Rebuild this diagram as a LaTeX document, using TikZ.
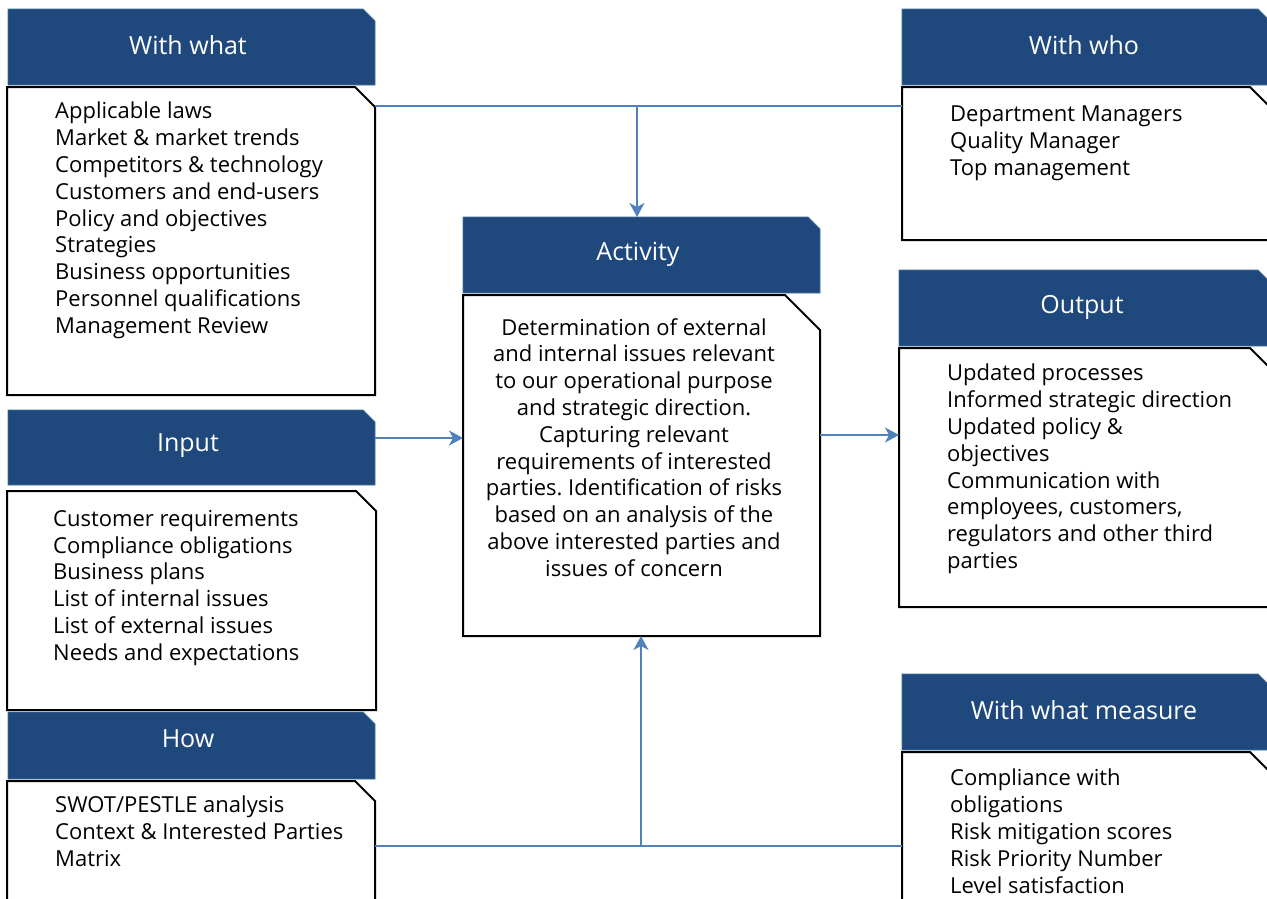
\documentclass[tikz,border=0pt]{standalone}
\usepackage{fontspec}
\setmainfont{Open Sans}
\frenchspacing
\usetikzlibrary{arrows.meta}
\definecolor{hdr}{RGB}{31,73,125}
\definecolor{hdredge}{RGB}{65,113,156}
\definecolor{connc}{RGB}{79,129,189}
\newcommand\snipbox[7]{%
  \node[draw=none, inner sep=0pt, outer sep=0pt, minimum width=#4pt, minimum height=#5pt, anchor=north west] (#1) at (#2,#3) {};
  \draw[#7] (#1.north west) -- ([xshift=-#6pt]#1.north east) -- ([yshift=-#6pt]#1.north east) -- (#1.south east) -- (#1.south west) -- cycle;
}
\tikzset{
  hdrbox/.style={fill=hdr, draw=hdredge, line width=0.8pt},
  bodybox/.style={fill=white, draw=black, line width=2pt, line join=miter},
  hdrtext/.style={text=white, font=\fontsize{25}{30}\selectfont, inner sep=0pt},
  bodytext/.style={text=black, font=\fontsize{22}{26.8}\selectfont, inner sep=0pt, align=left, anchor=north west},
  conn/.style={draw=connc, line width=1.8pt},
  arr/.style={conn, -{Stealth[length=14pt, width=15pt, inset=4pt]}}
}
\begin{document}
\begin{tikzpicture}[x=1pt, y=-1pt]
\useasboundingbox (0,0) rectangle (1267,898);
\coordinate (jtop) at (637,106);
\coordinate (jbot) at (641,846);
\coordinate (yin) at (0,438);
\coordinate (yout) at (0,435);

% With what
\snipbox{whath}{8}{9}{367}{76}{12}{hdrbox}
\snipbox{whatb}{7}{87}{368}{308}{20}{bodybox}
% With who
\snipbox{whoh}{902}{9}{368}{76}{12}{hdrbox}
\snipbox{whob}{902}{87}{368}{153}{20}{bodybox}
% Activity
\snipbox{acth}{463}{217}{357}{76}{12}{hdrbox}
\snipbox{actb}{463}{295}{357}{341}{35}{bodybox}
% Output
\snipbox{outh}{899}{270}{371}{76}{12}{hdrbox}
\snipbox{outb}{899}{348}{371}{259}{20}{bodybox}
% Input
\snipbox{inh}{8}{410}{367}{75}{12}{hdrbox}
\snipbox{inb}{7}{491}{369}{219}{20}{bodybox}
% How
\snipbox{howh}{8}{712}{367}{67}{12}{hdrbox}
\snipbox{howb}{7}{781}{368}{130}{20}{bodybox}
% With what measure
\snipbox{meash}{902}{674}{368}{76}{12}{hdrbox}
\snipbox{measb}{902}{752}{368}{160}{20}{bodybox}

% connectors
\draw[conn] (whatb.east |- jtop) -- (whob.west |- jtop);
\draw[arr] (jtop) -- (jtop |- acth.north);
\draw[arr] (inh.east |- yin) -- (actb.west |- yin);
\draw[arr] (actb.east |- yout) -- (outb.west |- yout);
\draw[conn] (howb.east |- jbot) -- (measb.west |- jbot);
\draw[arr] (jbot) -- (jbot |- actb.south);

% header texts
\node[hdrtext] (twhat) at (188,45) {With what};
\node[hdrtext] (twho) at (1084,45) {With who};
\node[hdrtext] (tact) at (638,254) {Activity};
\node[hdrtext] (tout) at (1082,307) {Output};
\node[hdrtext] (tin) at (188,446) {Input};
\node[hdrtext] (thow) at (188,739) {How};
\node[hdrtext] (tmeas) at (1084,710) {With what measure};

% body texts
\node[bodytext] (bwhat) at (55,102) {Applicable laws\\Market \& market trends\\Competitors \& technology\\Customers and end-users\\Policy and objectives\\Strategies\\Business opportunities\\Personnel qualifications\\Management Review};
\node[bodytext] (bwho) at (950,106) {Department Managers\\Quality Manager\\Top management};
\node[bodytext, align=center, anchor=north] (bact) at (634,318) {Determination of external\\and internal issues relevant\\to our operational purpose\\and strategic direction.\\Capturing relevant\\requirements of interested\\parties. Identification of risks\\based on an analysis of the\\above interested parties and\\issues of concern};
\node[bodytext] (bout) at (947,364) {Updated processes\\Informed strategic direction\\Updated policy \&\\objectives\\Communication with\\employees, customers,\\regulators and other third\\parties};
\node[bodytext] (bin) at (53,510) {Customer requirements\\Compliance obligations\\Business plans\\List of internal issues\\List of external issues\\Needs and expectations};
\node[bodytext] (bhow) at (55,796) {SWOT/PESTLE analysis\\Context \& Interested Parties\\Matrix};
\node[bodytext] (bmeas) at (950,769) {Compliance with\\obligations\\Risk mitigation scores\\Risk Priority Number\\Level satisfaction};
\end{tikzpicture}
\end{document}
